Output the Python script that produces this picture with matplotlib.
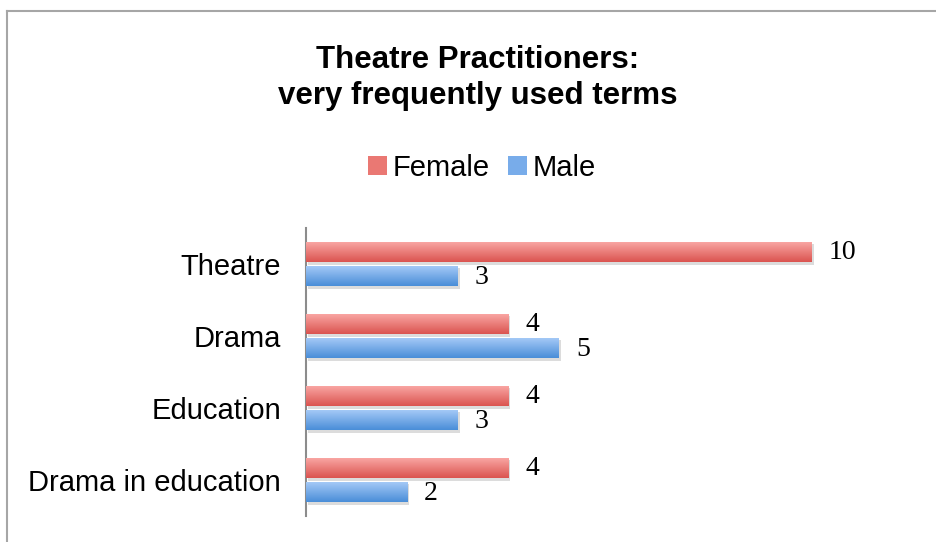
import numpy as np
import matplotlib
matplotlib.use("Agg")
import matplotlib.pyplot as plt
import matplotlib.patheffects as pe
from matplotlib.patches import Patch
from matplotlib.lines import Line2D
from matplotlib.colors import LinearSegmentedColormap

# -- data --
categories = ["Theatre", "Drama", "Education", "Drama in education"]
female = [10, 4, 4, 4]
male = [3, 5, 3, 2]

title = "Theatre Practitioners:\nvery frequently used terms"

female_top, female_bot = "#faa9a6", "#db5450"
male_top, male_bot = "#a8cbf8", "#4a8ed8"


def gradient_bars(ax, bars, top, bottom):
    cmap = LinearSegmentedColormap.from_list("g", [bottom, top])
    grad = np.linspace(1, 0, 64).reshape(-1, 1)
    for b in bars:
        x0, y0 = b.get_x(), b.get_y()
        w, h = b.get_width(), b.get_height()
        im = ax.imshow(grad, cmap=cmap, aspect="auto", origin="upper",
                       extent=(x0, x0 + w, y0 + h, y0), zorder=3)
        im.set_clip_path(b)


fig = plt.figure(figsize=(9.36, 5.42), dpi=100)
ax = fig.add_axes([306 / 936, 26 / 542, 607 / 936, 288 / 542])

y = np.arange(len(categories))
h = 0.29
off = 0.167

shadow = [pe.SimplePatchShadow(offset=(1.5, -2), alpha=0.25, shadow_rgbFace="#777777"), pe.Normal()]
fb = ax.barh(y - off, female, height=h, color=female_bot, zorder=2, path_effects=shadow)
mb = ax.barh(y + off, male, height=h, color=male_bot, zorder=2, path_effects=shadow)
gradient_bars(ax, fb, female_top, female_bot)
gradient_bars(ax, mb, male_top, male_bot)

for bars, vals in ((fb, female), (mb, male)):
    for b, v in zip(bars, vals):
        ax.annotate(str(v), (b.get_width(), b.get_y() + b.get_height() / 2),
                    xytext=(17, -1), textcoords="offset pixels",
                    ha="left", va="center", fontsize=20,
                    family="Liberation Serif", color="#000000")

ax.set_xlim(0, 12)
ax.set_ylim(len(categories) - 0.5, -0.5)
ax.set_yticks(y)
ax.set_yticklabels(categories, fontsize=21, family="Liberation Sans")
ax.tick_params(axis="y", length=0, pad=18)
ax.set_xticks([])
for s in ("top", "right", "bottom"):
    ax.spines[s].set_visible(False)
ax.spines["left"].set_color("#8c8c8c")
ax.spines["left"].set_linewidth(1.5)

fig.text(478 / 936, 1 - 78 / 542, title, ha="center", va="center",
         fontsize=22.5, fontweight="bold", family="Liberation Sans", linespacing=1.3)

handles = [Patch(facecolor="#ea7873", label="Female"), Patch(facecolor="#78acea", label="Male")]
fig.legend(handles=handles, loc="center", bbox_to_anchor=(482 / 936, 1 - 168 / 542),
           ncol=2, frameon=False, prop={"family": "Liberation Sans", "size": 21},
           handlelength=0.65, handleheight=0.65, handletextpad=0.2, columnspacing=0.6)

# outer border (left and top edges visible)
fig.add_artist(Line2D([7 / 936, 7 / 936], [0, 1 - 10.5 / 542], color="#a6a6a6", lw=1.5, transform=fig.transFigure))
fig.add_artist(Line2D([7 / 936, 1], [1 - 10.5 / 542, 1 - 10.5 / 542], color="#a6a6a6", lw=1.5, transform=fig.transFigure))

fig.savefig("out.png", dpi=100)
